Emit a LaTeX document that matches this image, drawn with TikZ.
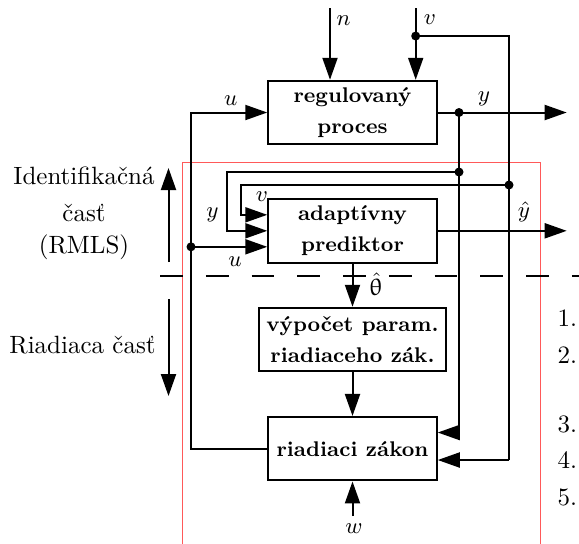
\documentclass[tikz,border=0pt]{standalone}
\usepackage{fontspec}
\usepackage{upgreek}
\usetikzlibrary{arrows.meta}
\begin{document}
\begin{tikzpicture}[x=0.4pt,y=-0.4pt,
  blk/.style={draw,line width=0.8pt,minimum width=67.4pt,minimum height=25.4pt,
    align=center,inner sep=1pt,font=\fontsize{8.5}{12.2}\selectfont\bfseries},
  wire/.style={line width=0.8pt},
  arr/.style={wire,-{Triangle[length=8.8pt,width=6pt]}},
  dot/.style={circle,fill,inner sep=0pt,minimum size=3.6pt},
  lbl/.style={inner sep=0pt,font=\fontsize{9.5}{11}\selectfont},
  side/.style={inner sep=0pt,anchor=base,font=\fontsize{10}{12}\selectfont},
  num/.style={inner sep=0pt,anchor=base west,font=\fontsize{10}{12}\selectfont}]
\useasboundingbox (0,0) rectangle (579,543);

% frame around the adaptive part
\draw[red!65,line width=0.4pt] (182.3,560) |- (540.7,162.3) -- (540.7,560);

% blocks
\node[blk] (P) at (352.5,112.5) {regulovaný\\proces};
\node[blk] (A) at (352.5,230.8) {adaptívny\\prediktor};
\node[blk,minimum width=74.6pt] (V) at (352.5,339.5) {výpočet param.\\riadiaceho zák.};
\node[blk] (R) at (352.5,448.7) {riadiaci zákon};

% branch points and free ends
\node[dot] (dv) at (415.7,36) {};
\node[dot] (dy) at (459,112.5) {};
\node[dot] (dy2) at (459,172) {};
\node[dot] (dv2) at (509,185) {};
\node[dot] (du) at (191,246.8) {};
\coordinate (nTop) at (330,8);
\coordinate (vTop) at (415.7,8);
\coordinate (yOut) at (566.7,112.5);
\coordinate (yhOut) at (566.7,230.8);
\coordinate (wIn) at (352.5,516);
\coordinate (vR) at (509,460);
\coordinate (yR) at (459,432.5);
\coordinate (vA) at (241,214.8);
\coordinate (yA) at (227.3,230.8);

% disturbances into the process
\draw[arr] (nTop) -- (nTop |- P.north);
\draw[arr] (vTop) -- (vTop |- P.north);

% process output
\draw[arr] (P.east) -- (yOut);
\draw[wire] (dy.center) -- (yR);
\draw[arr] (yR) -- (yR -| R.east);
\draw[arr] (dy2.center) -| (yA) -- (yA -| A.west);

% measured disturbance
\draw[wire] (dv.center) -| (vR);
\draw[arr] (vR) -- (vR -| R.east);
\draw[arr] (dv2.center) -| (vA) -- (vA -| A.west);

% control signal loop
\draw[arr] (R.west) -| (P.west -| du) -- (P.west);
\draw[arr] (du.center) -- (du -| A.west);

% predictor output and parameter chain
\draw[arr] (A.east) -- (yhOut);
\draw[arr] (A.south) -- (V.north);
\draw[arr] (V.south) -- (R.north);
\draw[arr] (wIn) -- (R.south);

% separation of the two parts
\draw[wire,dash pattern=on 9.1pt off 9.2pt] (160,276) -- (600,276);
\coordinate (upA) at (168.5,262);
\coordinate (upB) at (168.5,168);
\coordinate (dnA) at (168.5,299);
\coordinate (dnB) at (168.5,396);
\draw[arr] (upA) -- (upB);
\draw[arr] (dnA) -- (dnB);

% signal labels
\node[lbl] (ln) at (343.5,21) {$n$};
\node[lbl] (lv) at (430,20) {$v$};
\node[lbl] (lu) at (230.7,101) {$u$};
\node[lbl] (ly) at (484,99) {$y$};
\node[lbl] (lvA) at (262,196.5) {$v$};
\node[lbl] (lyA) at (212.5,215) {$y$};
\node[lbl] (luA) at (235,262) {$u$};
\node[lbl] (lyh) at (524,212) {$\hat{y}$};
\node[lbl] (lth) at (376,284) {$\hat{\uptheta}$};
\node[lbl] (lw) at (354,529) {$w$};

% part names
\node[side] (t1) at (84,184) {Identifikačná};
\node[side] (t2) at (84,221) {časť};
\node[side] (t3) at (84,253) {(RMLS)};
\node[side] (t4) at (82.5,353) {Riadiaca časť};

% step numbers
\node[num] (n1) at (557,326) {1.};
\node[num] (n2) at (557,363) {2.};
\node[num] (n3) at (557,432) {3.};
\node[num] (n4) at (557,468) {4.};
\node[num] (n5) at (557,505) {5.};
\end{tikzpicture}
\end{document}
